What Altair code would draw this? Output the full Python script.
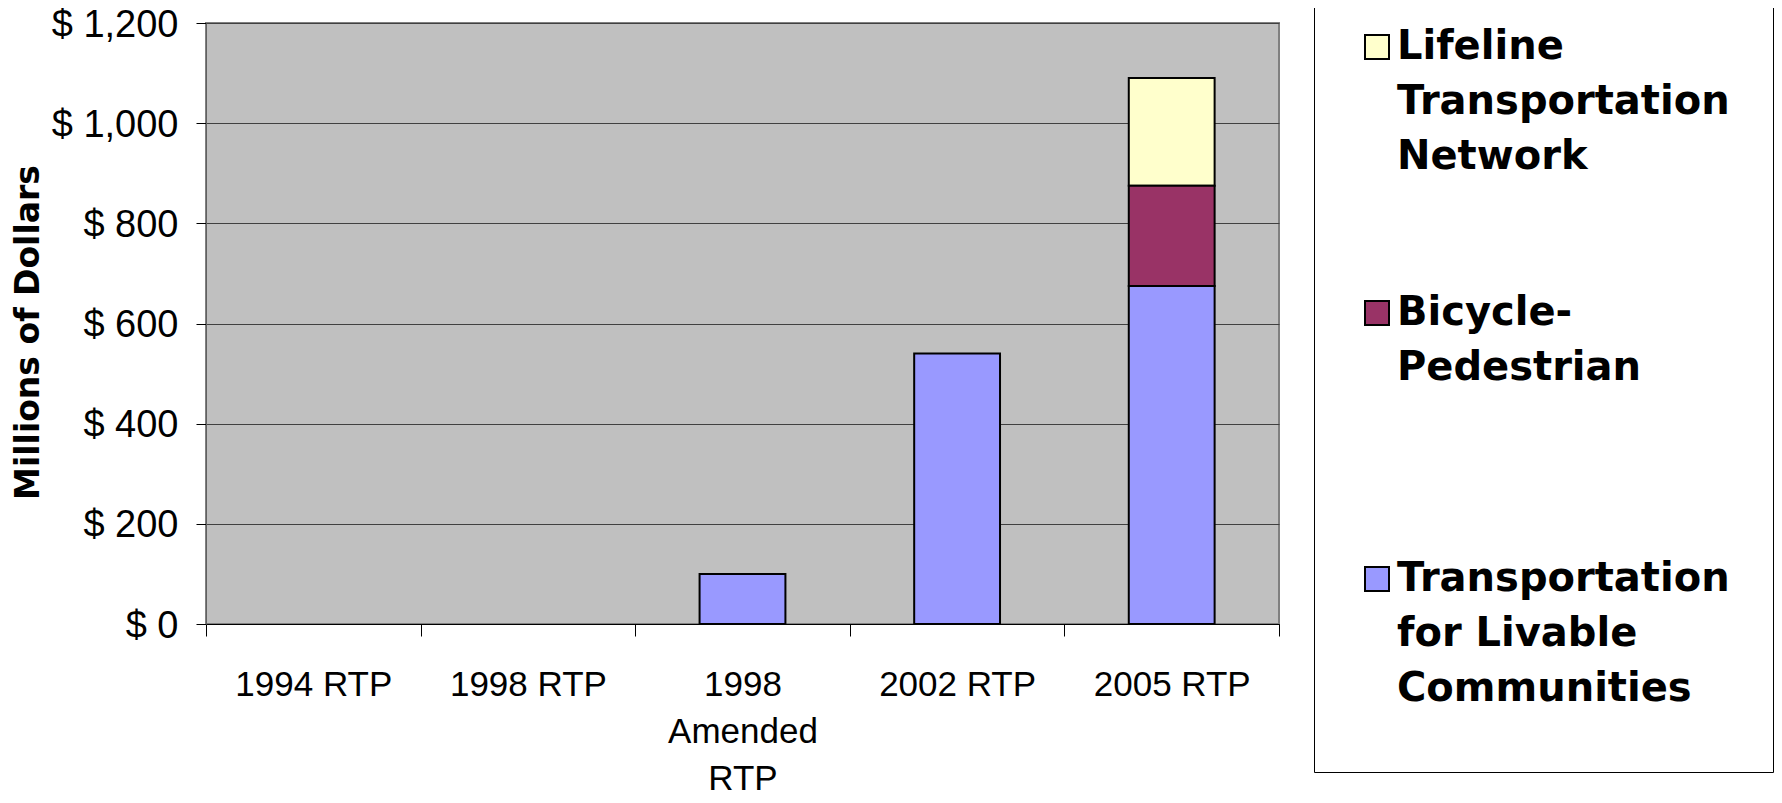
import json
import altair as alt
import pandas as pd

# ---- data ----
categories = ["1994 RTP", "1998 RTP", "1998 Amended RTP", "2002 RTP", "2005 RTP"]
category_lines = {"1998 Amended RTP": ["1998", "Amended", "RTP"]}

series_names = [
    "Lifeline Transportation Network",
    "Bicycle-Pedestrian",
    "Transportation for Livable Communities",
]
series_lines = {
    "Lifeline Transportation Network": ["Lifeline", "Transportation", "Network"],
    "Bicycle-Pedestrian": ["Bicycle-", "Pedestrian", " "],
    "Transportation for Livable Communities": ["Transportation", "for Livable", "Communities"],
}
series_colors = ["#FFFFCC", "#993366", "#9999FF"]
stack_rank = [2, 1, 0]  # bottom of stack = 0

lifeline = [0, 0, 0, 0, 215]
bike_ped = [0, 0, 0, 0, 200]
tlc = [0, 0, 100, 540, 675]

y_ticks = [0, 200, 400, 600, 800, 1000, 1200]

rows = []
for name, vals, rank in zip(series_names, [lifeline, bike_ped, tlc], stack_rank):
    for cat, v in zip(categories, vals):
        if v > 0:
            rows.append({"plan": cat, "program": name, "value": v, "rank": rank})
df = pd.DataFrame(rows)


def lines_expr(mapping):
    expr = "datum.label"
    for key, lines in mapping.items():
        expr = f"datum.label == {json.dumps(key)} ? {json.dumps(lines)} : ({expr})"
    return expr


chart = (
    alt.Chart(df)
    .mark_bar(stroke="black", strokeWidth=2, width=alt.RelativeBandSize(0.4))
    .encode(
        x=alt.X(
            "plan:N",
            sort=categories,
            scale=alt.Scale(domain=categories, paddingInner=0, paddingOuter=0),
            axis=alt.Axis(
                title=None,
                labelAngle=0,
                tickBand="extent",
                tickSize=12,
                tickColor="black",
                domainColor="black",
                labelPadding=31,
                labelFont="Liberation Sans",
                labelFontSize=35,
                labelColor="black",
                labelLineHeight=47,
                labelLimit=400,
                labelExpr=lines_expr(category_lines),
                grid=False,
            ),
        ),
        y=alt.Y(
            "value:Q",
            stack="zero",
            scale=alt.Scale(domain=[0, 1200], nice=False),
            axis=alt.Axis(
                values=y_ticks,
                labelExpr="'$ ' + format(datum.value, ',')",
                labelFont="Liberation Sans",
                labelFontSize=38,
                labelColor="black",
                labelPadding=18,
                labelOffset=2,
                tickSize=10,
                tickColor="black",
                domainColor="#606060",
                gridColor="#404040",
                gridWidth=1,
                title="Millions of Dollars",
                titleFont="DejaVu Sans",
                titleFontWeight="bold",
                titleFontSize=33,
                titleColor="black",
                titleAngle=270,
                titleBaseline="alphabetic",
                titleAlign="center",
                titleX=-168,
                titleY=309,
            ),
        ),
        color=alt.Color(
            "program:N",
            scale=alt.Scale(domain=series_names, range=series_colors),
            legend=alt.Legend(
                title=" ",
                titleOrient="bottom",
                titleFontSize=1,
                titlePadding=19,
                orient="none",
                legendX=1108,
                legendY=-39,
                padding=43,
                rowPadding=116,
                fillColor="white",
                strokeColor="black",
                symbolType="square",
                symbolSize=576,
                symbolStrokeColor="black",
                symbolStrokeWidth=2,
                symbolOpacity=1,
                labelFont="DejaVu Sans",
                labelFontWeight="bold",
                labelFontSize=40,
                labelColor="black",
                labelLimit=1000,
                labelOffset=0,
                labelExpr=lines_expr(series_lines),
            ),
        ),
        order=alt.Order("rank:Q", sort="ascending"),
    )
    .properties(
        width=1073,
        height=601,
        autosize=alt.AutoSizeParams(type="none"),
        padding={"left": 198, "top": 15, "right": 495, "bottom": 178},
    )
    .configure(style={"guide-label": {"lineHeight": 55}})
    .configure_view(fill="#C0C0C0", stroke="#808080", strokeWidth=2)
)

chart.save("out.html", embed_options={"renderer": "svg", "actions": False})
